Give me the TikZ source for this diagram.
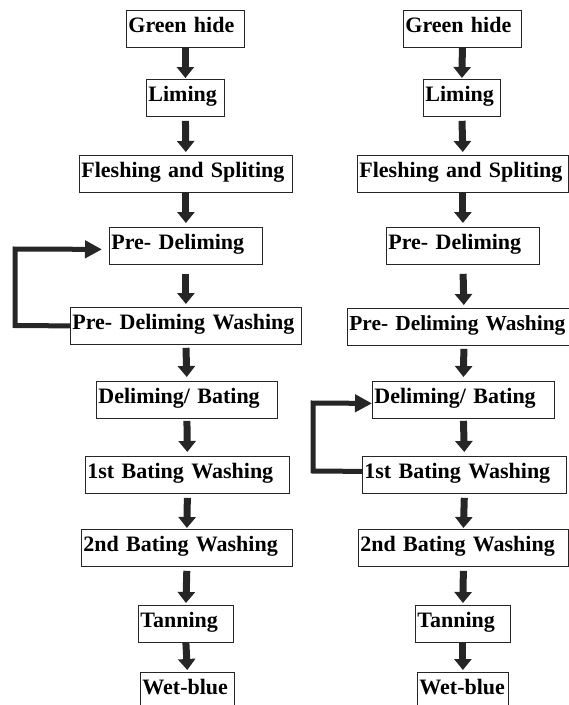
\documentclass[tikz,border=0pt]{standalone}
\usepackage{fontspec}
\setmainfont{Liberation Serif}
\usetikzlibrary{arrows.meta}
\begin{document}
\begin{tikzpicture}[x=1pt,y=-1pt,
  box/.style={draw=black!85, line width=0.8pt, anchor=north west, inner xsep=2pt, inner ysep=0pt,
    text height=22pt, text depth=15pt, align=left, font=\fontsize{22}{26}\selectfont\bfseries},
  down/.style={line width=7pt, -{Triangle[width=17pt,length=11pt]}, draw=black!85},
  back/.style={line width=5pt, -{Triangle[width=17pt,length=17pt]}, draw=black!85, line join=miter},
]
\useasboundingbox (0,0) rectangle (569,705);
% ---------- left column ----------
\node[box, text width=114pt] (lg) at (126,10) {\mbox{Green hide}};
\node[box, text width=74pt]  (ll) at (146,79) {\mbox{Liming}};
\node[box, text width=209pt] (lf) at (79,155) {\mbox{Fleshing and Spliting}};
\node[box, text width=149pt] (lp) at (109,227) {\mbox{Pre- Deliming}};
\node[box, text width=227pt] (lw) at (70,307) {\mbox{Pre- Deliming Washing}};
\node[box, text width=177pt] (ld) at (96,381) {\mbox{Deliming/ Bating}};
\node[box, text width=200pt] (l1) at (85,456) {\mbox{1st Bating Washing}};
\node[box, text width=207pt] (l2) at (81,529) {\mbox{2nd Bating Washing}};
\node[box, text width=91pt]  (lt) at (138,605) {\mbox{Tanning}};
\node[box, text width=90pt]  (lb) at (140,672) {\mbox{Wet-blue}};
% ---------- right column ----------
\node[box, text width=114pt] (rg) at (403,10) {\mbox{Green hide}};
\node[box, text width=73pt]  (rl) at (423,79) {\mbox{Liming}};
\node[box, text width=207pt] (rf) at (357,155) {\mbox{Fleshing and Spliting}};
\node[box, text width=149pt] (rp) at (386,227) {\mbox{Pre- Deliming}};
\node[box, text width=229pt, font=\fontsize{21.4}{26}\selectfont\bfseries] (rw) at (347,308) {\mbox{Pre- Deliming Washing}};
\node[box, text width=178pt] (rd) at (372,381) {\mbox{Deliming/ Bating}};
\node[box, text width=200pt] (r1) at (362,456) {\mbox{1st Bating Washing}};
\node[box, text width=206pt] (r2) at (358,529) {\mbox{2nd Bating Washing}};
\node[box, text width=91pt]  (rt) at (415,605) {\mbox{Tanning}};
\node[box, text width=87pt]  (rb) at (417,672) {\mbox{Wet-blue}};
% ---------- down arrows ----------
\foreach \c in {l,r}{
  \draw[down, shorten >=1pt] (\c g.south) -- (\c l.north);
  \draw[down, shorten <=4pt, shorten >=3pt] (\c l.south) -- (\c f.north);
  \draw[down, shorten >=4pt] (\c f.south) -- (\c p.north);
  \draw[down, shorten <=9pt, shorten >=3pt] (\c p.south) -- (\c w.north);
  \draw[down, shorten <=3pt, shorten >=4pt] (\c w.south) -- (\c d.north);
  \draw[down, shorten <=2pt, shorten >=4pt] (\c d.south) -- (\c 1.north);
  \draw[down, shorten <=4pt, shorten >=1pt] (\c 1.south) -- (\c 2.north);
  \draw[down, shorten <=4pt, shorten >=2pt] (\c 2.south) -- (\c t.north);
  \draw[down, shorten >=2pt] (\c t.south) -- (\c b.north);
}
% ---------- feedback loops ----------
\draw[back, shorten >=7pt] (lw.west) -- (15,325.5) -- (15,249) -- ([yshift=-3.5pt]lp.west);
\draw[back] ([yshift=3.5pt]r1.west) -- (313,471) -- (313,403) -- ([yshift=-3.5pt]rd.west);
\end{tikzpicture}
\end{document}
